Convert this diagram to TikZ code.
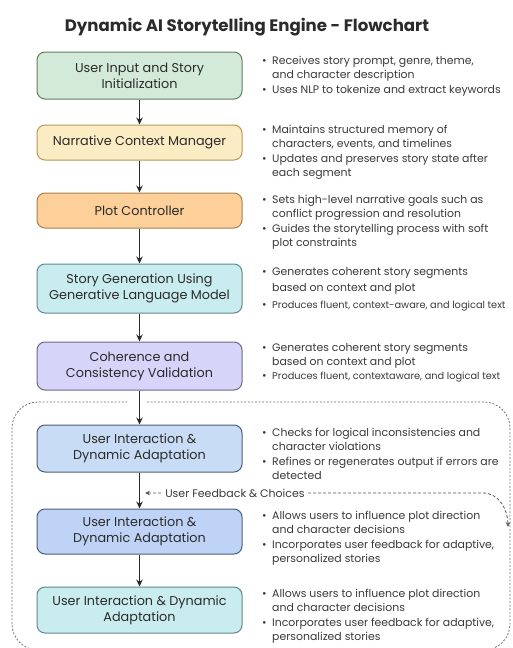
\documentclass[tikz,border=0pt]{standalone}
\usepackage{fontspec}
\setmainfont{Poppins}
\usetikzlibrary{arrows.meta,positioning}

\definecolor{inkdark}{HTML}{2B2B2B}
\definecolor{inktext}{HTML}{3A3A3A}
\definecolor{greenfill}{HTML}{D4EAD8}
\definecolor{greenline}{HTML}{5F7D64}
\definecolor{yellowfill}{HTML}{FCECC4}
\definecolor{yellowline}{HTML}{B8975A}
\definecolor{orangefill}{HTML}{FDD09A}
\definecolor{orangeline}{HTML}{A8804F}
\definecolor{cyanfill}{HTML}{C9ECEE}
\definecolor{cyanline}{HTML}{5D8A8E}
\definecolor{lilacfill}{HTML}{D6D4F8}
\definecolor{lilacline}{HTML}{6A6A8A}
\definecolor{bluefill}{HTML}{C9DCF5}
\definecolor{blueline}{HTML}{4E5E76}
\definecolor{deepbluefill}{HTML}{BFD3F6}

\newcommand{\bl}{\makebox[10pt][l]{\textbullet}}
\newcommand{\ind}{\hspace*{10pt}}
\newcommand{\tight}{\fontsize{9.8}{14.3}\selectfont}

\begin{document}
\begin{tikzpicture}[x=1pt,y=-1pt,
  stage/.style={rounded corners=8pt,minimum width=205pt,line width=1pt,
    align=center,text=inkdark,font=\fontsize{12.8}{16}\selectfont},
  notes/.style={anchor=north west,inner sep=0pt,align=left,text=inktext,
    font=\fontsize{10.9}{14.3}\selectfont},
  flow/.style={-{Stealth[length=7pt,width=6.5pt]},line width=1.4pt,draw=inkdark},
  loopline/.style={line width=.8pt,draw=black!55,dash pattern=on 2pt off 1.6pt},
  feedline/.style={line width=.8pt,draw=black!65,dash pattern=on 3pt off 2pt}]
  \useasboundingbox[fill=white] (0,0) rectangle (512,648);

  \node[font=\bfseries\fontsize{16.6}{20}\selectfont,text=inkdark] (title) at (247,27)
    {Dynamic AI Storytelling Engine - Flowchart};

  % dashed region round the interactive part
  \draw[loopline,rounded corners=26pt] (147,402) -- (510,402) -- (510,650)
    -- (12,650) -- (12,402) -- (128,402);

  % stages
  \node[stage,fill=greenfill,draw=greenline,minimum height=47pt] (input) at (139.5,75.5)
    {User Input and Story\\Initialization};
  \node[stage,fill=yellowfill,draw=yellowline,minimum height=35pt] (context) at (139.5,142.5)
    {Narrative Context Manager};
  \node[stage,fill=orangefill,draw=orangeline,minimum height=35pt] (plot) at (139.5,210.5)
    {Plot Controller};
  \node[stage,fill=cyanfill,draw=cyanline,minimum height=49pt] (generate) at (139.5,288.5)
    {Story Generation Using\\Generative Language Model};
  \node[stage,fill=lilacfill,draw=lilacline,minimum height=48pt] (validate) at (139.5,366)
    {Coherence and\\Consistency Validation};
  \node[stage,fill=bluefill,draw=blueline,minimum height=47pt] (interactA) at (139.5,448.5)
    {User Interaction \&\\Dynamic Adaptation};
  \node[stage,fill=deepbluefill,draw=blueline,minimum height=45pt] (interactB) at (139.5,531.5)
    {User Interaction \&\\Dynamic Adaptation};
  \node[stage,fill=cyanfill,draw=cyanline,minimum height=46pt] (interactC) at (139.5,610)
    {User Interaction \& Dynamic\\Adaptation};

  \foreach \a/\b in {input/context,context/plot,plot/generate,generate/validate,
                     validate/interactA,interactA/interactB,interactB/interactC}
    \draw[flow] (\a) -- (\b);

  % notes beside the stages
  \node[notes] (inputnotes) at (262,56)
    {\bl Receives story prompt, genre, theme,\\
     \ind and character description\\
     \bl Uses NLP to tokenize and extract keywords};
  \node[notes] (contextnotes) at (262,125)
    {\bl Maintains structured memory of\\
     \ind characters, events, and timelines\\
     \bl Updates and preserves story state after\\
     \ind each segment};
  \node[notes] (plotnotes) at (262,195)
    {\bl Sets high-level narrative goals such as\\
     \ind conflict progression and resolution\\
     \bl Guides the storytelling process with soft\\
     \ind plot constraints};
  \node[notes] (generatenotes) at (262,267)
    {\bl Generates coherent story segments\\[1.5pt]
     \ind based on context and plot\\[3pt]
     \bl {\tight Produces fluent, context-aware, and logical text}};
  \node[notes] (validatenotes) at (262,343)
    {\bl Generates coherent story segments\\
     \ind based on context and plot\\
     \bl {\tight Produces fluent, contextaware, and logical text}};
  \node[notes] (interactAnotes) at (262,428)
    {\bl Checks for logical inconsistencies and\\
     \ind character violations\\
     \bl Refines or regenerates output if errors are\\
     \ind detected};
  \node[notes] (interactBnotes) at (262,511)
    {\bl Allows users to influence plot direction\\
     \ind and character decisions\\
     \bl Incorporates user feedback for adaptive,\\
     \ind personalized stories};
  \node[notes] (interactCnotes) at (262,589)
    {\bl Allows users to influence plot direction\\
     \ind and character decisions\\
     \bl Incorporates user feedback for adaptive,\\
     \ind personalized stories};

  % feedback loop
  \coordinate (fbleft) at (145,493);
  \coordinate (fbright) at (483,493);
  \coordinate (fbdown) at (508,527);
  \draw[feedline,{Stealth[length=5pt,width=4.5pt]}-{Stealth[length=5pt,width=4.5pt]}]
    (fbleft) -- (fbright) to[out=0,in=90] (fbdown);
  \node[fill=white,inner sep=2pt,text=inktext,font=\fontsize{11}{12}\selectfont]
    (feedback) at (235,493) {User Feedback \& Choices};
\end{tikzpicture}
\end{document}
